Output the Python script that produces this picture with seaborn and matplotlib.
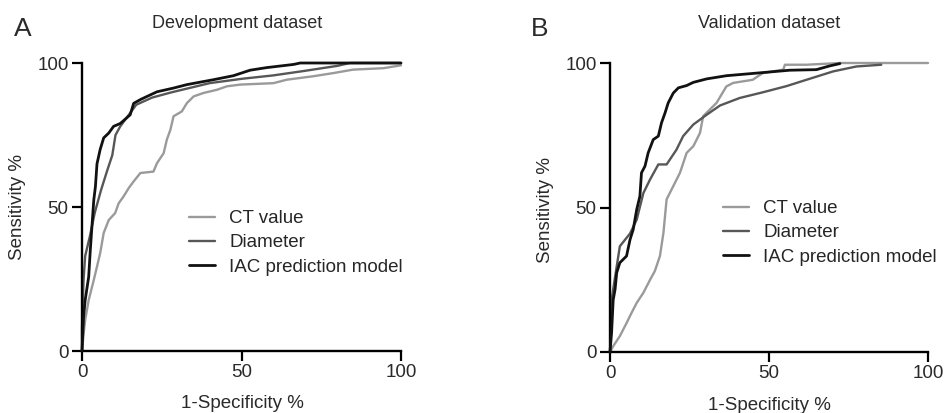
import matplotlib
matplotlib.use("Agg")
import matplotlib.pyplot as plt
import seaborn as sns
import pandas as pd
from matplotlib.lines import Line2D

sns.set_theme(style="white")
plt.rcParams['font.family'] = ['Liberation Sans', 'DejaVu Sans']

series_names = ["CT value", "Diameter", "IAC prediction model"]
series_colors = ["#9a9a9a", "#575757", "#111111"]
series_widths = [1.7, 1.7, 2.0]

# Panel A: Development dataset
dev_ct_x = [0, 0.5, 1, 2.1, 3.7, 4.7, 5.7, 6.8, 8.4, 10.4, 11.5, 13, 14.6, 16.2, 18.3, 22.4, 23.5,
            25.6, 26.6, 27.7, 28.7, 31.3, 32.9, 35, 38.1, 42.3, 45.4, 49.6, 60, 64.2, 72.5, 78.8,
            85, 94.5, 100]
dev_ct_y = [0, 6, 10.8, 17.7, 24.7, 29.3, 34, 41, 45.5, 47.9, 51.3, 53.6, 56.5, 58.9, 61.8, 62.3,
            65.2, 68.7, 73.4, 76.8, 81.5, 83.2, 86.1, 88.4, 89.6, 90.7, 91.9, 92.5, 93, 94.2, 95.4,
            96.5, 97.7, 98.2, 99.2]
dev_dia_x = [0, 0, 0.5, 1, 2.5, 4, 6, 8, 9.5, 10.5, 12, 14, 17, 22, 28, 40, 50, 60, 70, 80, 84, 100]
dev_dia_y = [0, 8, 25, 33, 40, 48, 56, 63, 68, 75, 78, 81, 85.5, 88, 89.8, 93, 94.5, 95.7, 97.3,
             99, 100, 100]
dev_iac_x = [0, 0.5, 1, 2.1, 2.6, 3.1, 3.7, 4.2, 4.7, 5.7, 6.8, 8.4, 9.9, 12, 15.1, 16.2, 18.3,
             20.4, 23.5, 28.7, 32.9, 41.2, 47.5, 52.7, 57.9, 66.3, 68.4, 100]
dev_iac_y = [0, 12, 17.7, 25.8, 35, 43, 52.5, 57, 65, 70, 74, 75.7, 78, 79, 82, 86, 87.3, 88.4,
             90, 91.3, 92.5, 94.2, 95.6, 97.5, 98.4, 99.5, 100, 100]

# Panel B: Validation dataset
val_ct_x = [0, 1, 3.1, 5.2, 6.8, 8.4, 10.5, 12.6, 14.1, 15.7, 16.8, 17.8, 19.9, 22, 24.1, 26.2,
            28.3, 29.3, 31.4, 33.5, 36.6, 38.7, 44.9, 48, 54.5, 55, 61.8, 72.3, 100]
val_ct_y = [0, 2, 5.5, 10, 13.6, 17, 20.5, 25, 28, 33.2, 41.2, 52.8, 57.4, 62, 68.9, 71.2, 75.8,
            81.6, 83.9, 86.2, 91.9, 93.1, 94.2, 96.5, 97.7, 99.4, 99.4, 100, 100]
val_dia_x = [0, 0.5, 1.6, 3.1, 6.3, 8.4, 10.5, 12.6, 15.2, 17.8, 20.9, 23, 26.2, 30.4, 34.6, 40.8,
             48.2, 55.5, 61.8, 70.2, 77.5, 85.3]
val_dia_y = [0, 18, 26, 36.6, 41, 45.8, 55, 59.7, 64.9, 64.9, 70, 74.7, 78.7, 82.1, 85.3, 87.9,
             89.9, 92, 94.2, 97.1, 98.8, 99.4]
val_iac_x = [0, 0.5, 1, 1.6, 2.1, 3.1, 5.2, 6.3, 7.3, 8.4, 9.4, 9.9, 11, 12, 13.6, 15.2, 16.2,
             17.3, 18.3, 19.9, 21.5, 24.1, 26.2, 30.4, 36.6, 46.1, 56.5, 64.9, 69.1, 72.3]
val_iac_y = [0, 6.7, 18, 21.7, 27.4, 30.9, 33.2, 38.9, 42.4, 49.3, 53.9, 62, 64.3, 68.9, 73.5,
             74.7, 79.3, 82.7, 86.2, 89.6, 91.4, 92.2, 93.3, 94.5, 95.6, 96.5, 97.5, 97.7, 99,
             99.8]

tick_vals = [0, 50, 100]
tick_labels = ["0", "50", "100"]


def make_df(xs, ys):
    rows = []
    for name, x, y in zip(series_names, xs, ys):
        for i, (a, b) in enumerate(zip(x, y)):
            rows.append({"series": name, "x": a, "y": b, "order": i})
    return pd.DataFrame(rows)


dev_df = make_df([dev_ct_x, dev_dia_x, dev_iac_x], [dev_ct_y, dev_dia_y, dev_iac_y])
val_df = make_df([val_ct_x, val_dia_x, val_iac_x], [val_ct_y, val_dia_y, val_iac_y])

W, H = 946, 413
fig = plt.figure(figsize=(W / 100, H / 100), dpi=100)


def px_rect(l, r, t, b):
    return [l / W, 1 - b / H, (r - l) / W, (b - t) / H]


axA = fig.add_axes(px_rect(82, 401, 63, 351))
axB = fig.add_axes(px_rect(610, 928, 63, 352))

FS = 13.5
for ax, df in [(axA, dev_df), (axB, val_df)]:
    for name, col, lw in zip(series_names, series_colors, series_widths):
        sub = df[df.series == name]
        sns.lineplot(data=sub, x="x", y="y", sort=False, estimator=None, color=col,
                     linewidth=lw, ax=ax, clip_on=False, zorder=3 if name.startswith("IAC") else 2)
    ax.set_xlim(0, 100)
    ax.set_ylim(0, 100)
    ax.set_xticks(tick_vals)
    ax.set_xticklabels(tick_labels)
    ax.set_yticks(tick_vals)
    ax.set_yticklabels(tick_labels)
    ax.set_xlabel("")
    ax.set_ylabel("")
    for s in ["top", "right"]:
        ax.spines[s].set_visible(False)
    for s in ["left", "bottom"]:
        ax.spines[s].set_visible(True)
        ax.spines[s].set_color("black")
        ax.spines[s].set_linewidth(1.7)
    ax.tick_params(axis="both", which="major", direction="out", length=7.2, width=1.6,
                   color="black", labelsize=FS, labelcolor="#2a2a2a", pad=2.5,
                   bottom=True, left=True)
    ax.set_facecolor("white")
    ax.grid(False)

handles = [Line2D([0], [0], color=c, lw=w) for c, w in zip(series_colors, series_widths)]
for ax, anchor in [(axA, (189 / W, 1 - 210 / H)), (axB, (723 / W, 1 - 200 / H))]:
    fig.legend(handles, series_names, loc="upper left", bbox_to_anchor=anchor,
               frameon=False, fontsize=FS, handlelength=1.4, handletextpad=0.75,
               labelspacing=0.38, borderaxespad=0, borderpad=0)

txt = dict(color="#2a2a2a")
fig.text(237 / W, 1 - 23 / H, "Development dataset", ha="center", va="center", fontsize=13, **txt)
fig.text(769 / W, 1 - 23 / H, "Validation dataset", ha="center", va="center", fontsize=13, **txt)
fig.text(23 / W, 1 - 29 / H, "A", ha="center", va="center", fontsize=19, **txt)
fig.text(540 / W, 1 - 29 / H, "B", ha="center", va="center", fontsize=19, **txt)
fig.text(18 / W, 1 - 207 / H, "Sensitivity %", ha="center", va="center", rotation=90, fontsize=FS, **txt)
fig.text(545 / W, 1 - 210 / H, "Sensitivity %", ha="center", va="center", rotation=90, fontsize=FS, **txt)
fig.text(242 / W, 1 - 403 / H, "1-Specificity %", ha="center", va="center", fontsize=FS, **txt)
fig.text(769 / W, 1 - 406 / H, "1-Specificity %", ha="center", va="center", fontsize=FS, **txt)

fig.savefig("out.png", dpi=100, facecolor="white")
